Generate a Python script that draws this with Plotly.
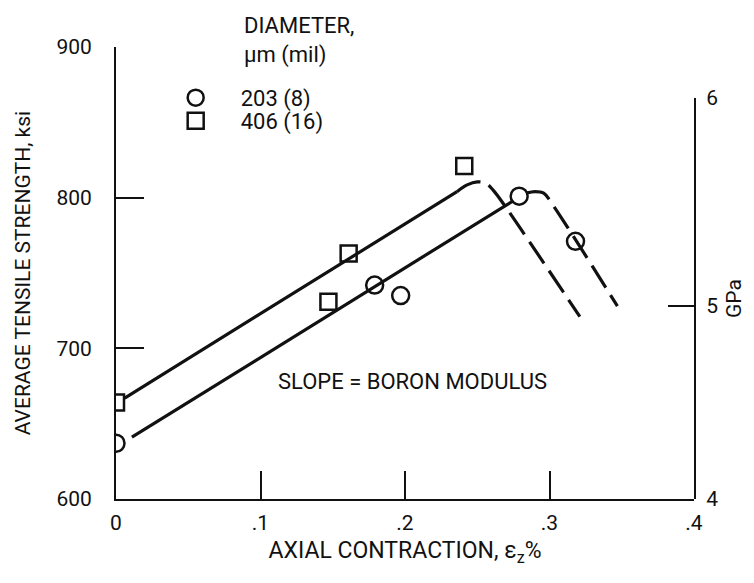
import plotly.graph_objects as go

# ---- data ----
# measured points, ksi vs axial contraction (%)
small_x = [0.0, 0.179, 0.197, 0.279, 0.318]          # 203 um (8 mil)
small_y = [637, 742, 735, 801, 771]
large_x = [0.0, 0.147, 0.161, 0.241]                 # 406 um (16 mil)
large_y = [664, 731, 763, 821]

# fitted lines: solid = elastic slope, dashed = fall-off
large_fit_x = [0.006, 0.236]
large_fit_y = [667, 804]
large_drop_x = [0.236, 0.243, 0.250, 0.256, 0.261, 0.269, 0.321]
large_drop_y = [804, 808.5, 810.5, 809.5, 805, 794.7, 721]
small_fit_x = [0.011, 0.275]
small_fit_y = [641, 798]
small_drop_x = [0.284, 0.290, 0.296, 0.301, 0.347]
small_drop_y = [803, 804, 803, 797, 728]

x_ticks = [0, 0.1, 0.2, 0.3, 0.4]
x_ticktext = ["0", ".1", ".2", ".3", ".4"]
ksi_ticks = [600, 700, 800, 900]
ksi_range = [600, 900]
# GPa scale as drawn on the right (bottom of the axis ~4.07, top tick 6)
gpa_range = [4.07, 6]
gpa_ticks = [4.07, 5, 6]
gpa_ticktext = ["4", "5", "6"]
gpa_domain_top = 0.887

FONT = "Roboto, Liberation Sans, sans-serif"
INK = "#111111"

fig = go.Figure()

line_style = {"color": INK, "width": 3.2}
dash_style = {"color": INK, "width": 3.2, "dash": "26px,9px"}
for fx, fy, st in [(large_fit_x, large_fit_y, line_style),
                   (large_drop_x, large_drop_y, dash_style),
                   (small_fit_x, small_fit_y, line_style),
                   (small_drop_x, small_drop_y, dash_style)]:
    fig.add_trace(go.Scatter(x=fx, y=fy, mode="lines", line=st,
                             line_shape="spline", showlegend=False,
                             hoverinfo="skip"))

fig.add_trace(go.Scatter(
    x=small_x, y=small_y, mode="markers", name="203 (8)", legend="legend",
    marker={"symbol": "circle-open", "size": 17, "color": INK,
            "line": {"width": 2.5, "color": INK}},
))
fig.add_trace(go.Scatter(
    x=large_x, y=large_y, mode="markers", name="406 (16)", legend="legend2",
    marker={"symbol": "square-open", "size": 16, "color": INK,
            "line": {"width": 2.5, "color": INK}},
))
# carrier for the GPa axis
fig.add_trace(go.Scatter(x=[None], y=[None], yaxis="y2", showlegend=False,
                         hoverinfo="skip"))

fig.add_annotation(x=0.205, y=678, xref="x", yref="y",
                   text="SLOPE = BORON MODULUS", showarrow=False,
                   font={"size": 22, "color": INK, "family": FONT})
fig.add_annotation(x=0.218, y=1.015, xref="paper", yref="paper",
                   xanchor="left", yanchor="middle", align="left",
                   text="DIAMETER,<br>µm (mil)", showarrow=False,
                   font={"size": 22, "color": INK, "family": FONT})

leg = {"xanchor": "left", "yanchor": "top", "bgcolor": "rgba(0,0,0,0)",
       "itemwidth": 80, "font": {"size": 22, "family": FONT, "color": INK}}

fig.update_layout(
    template="none",
    width=738, height=567,
    paper_bgcolor="white", plot_bgcolor="rgba(0,0,0,0)",
    font={"family": FONT, "size": 21, "color": INK},
    margin={"l": 108, "r": 52, "t": 39, "b": 76},
    legend={**leg, "x": 0.06, "y": 0.934},
    legend2={**leg, "x": 0.06, "y": 0.883},
    xaxis={
        "range": [0, 0.4], "tickvals": x_ticks, "ticktext": x_ticktext,
        "ticks": "inside", "ticklen": 28, "tickwidth": 2, "tickcolor": INK,
        "showline": True, "linewidth": 2, "linecolor": INK,
        "showgrid": False, "zeroline": False, "ticklabelstandoff": 4,
        "title": {"text": "AXIAL CONTRACTION, ε<sub>z</sub>%", "standoff": 8,
                  "font": {"size": 23}},
    },
    yaxis={
        "range": ksi_range, "tickvals": ksi_ticks,
        "ticks": "inside", "ticklen": 28, "tickwidth": 2, "tickcolor": INK,
        "showline": True, "linewidth": 2, "linecolor": INK,
        "showgrid": False, "zeroline": False, "ticklabelstandoff": 18,
        "title": {"text": "AVERAGE TENSILE STRENGTH, ksi", "standoff": 20,
                  "font": {"size": 21}},
    },
    yaxis2={
        "anchor": "x", "side": "right", "domain": [0, gpa_domain_top],
        "range": gpa_range, "tickvals": gpa_ticks, "ticktext": gpa_ticktext,
        "ticks": "inside", "ticklen": 26, "tickwidth": 2, "tickcolor": INK,
        "showline": True, "linewidth": 2, "linecolor": INK,
        "showgrid": False, "zeroline": False, "ticklabelstandoff": 6,
        "title": {"text": "GPa", "standoff": 10, "font": {"size": 21}},
    },
)

fig.write_html("out.html")
